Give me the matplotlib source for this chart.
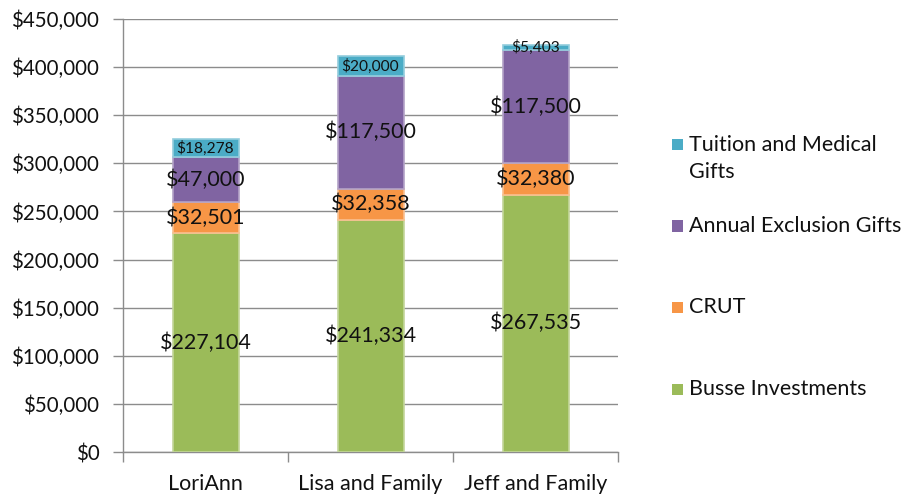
import matplotlib
matplotlib.use("Agg")
import matplotlib.pyplot as plt
from matplotlib.patches import Rectangle
from matplotlib.ticker import FuncFormatter, MultipleLocator
import numpy as np

plt.rcParams['font.family'] = ['Lato', 'DejaVu Sans']

categories = ["LoriAnn", "Lisa and Family", "Jeff and Family"]
series_names = ["Busse Investments", "CRUT", "Annual Exclusion Gifts", "Tuition and Medical Gifts"]
busse = [227104, 241334, 267535]
crut = [32501, 32358, 32380]
annual = [47000, 117500, 117500]
tuition = [18278, 20000, 5403]

colors = ["#9BBB59", "#F79646", "#8064A2", "#4BACC6"]
edges = ["#C3D69B", "#FAC090", "#B3A2C7", "#93CDDD"]
txt = '#111111'

fig = plt.figure(figsize=(9.06, 4.98), dpi=100)
ax = fig.add_axes([123/906, 1-452/498, (618-123)/906, (452-19)/498])

x = np.arange(len(categories))
bottoms = np.zeros(len(categories))
all_series = [busse, crut, annual, tuition]
label_sizes = [15.5, 15.5, 15.5, 11.2]
for vals, col, ed, fs in zip(all_series, colors, edges, label_sizes):
    vals = np.array(vals, dtype=float)
    ax.bar(x, vals, width=0.4, bottom=bottoms, color=col, edgecolor=ed,
           linewidth=1.2, zorder=3)
    for xi, b, v in zip(x, bottoms, vals):
        ax.text(xi, b + v/2, "${:,.0f}".format(v), ha='center', va='center',
                fontsize=fs, color=txt, zorder=5)
    bottoms += vals

ax.set_xlim(-0.5, 2.5)
ax.set_ylim(0, 450000)
ax.yaxis.set_major_locator(MultipleLocator(50000))
ax.yaxis.set_major_formatter(FuncFormatter(lambda v, p: "${:,.0f}".format(v)))
ax.grid(axis='y', color='#8c8c8c', linewidth=1, zorder=0)
ax.set_axisbelow(True)

ax.set_xticks([-0.5, 0.5, 1.5, 2.5], minor=False)
ax.set_xticklabels([])
ax.set_xticks(x, minor=True)
ax.set_xticklabels(categories, minor=True)
ax.tick_params(axis='x', which='minor', length=0, pad=16, labelsize=15.5, labelcolor=txt)
ax.tick_params(axis='x', which='major', length=7, width=1, color='#8c8c8c', direction='out')
ax.tick_params(axis='y', length=7, width=1, color='#8c8c8c', direction='out', pad=10,
               labelsize=14.8, labelcolor=txt)

for s in ['top', 'right']:
    ax.spines[s].set_visible(False)
for s in ['left', 'bottom']:
    ax.spines[s].set_color('#8c8c8c')
    ax.spines[s].set_linewidth(1)

# Legend (manual, Excel-style spacing)
legend_items = [(["Tuition and Medical", "Gifts"], colors[3], 145),
                (["Annual Exclusion Gifts"], colors[2], 226),
                (["CRUT"], colors[1], 307),
                (["Busse Investments"], colors[0], 389)]
for lines, col, ypx in legend_items:
    sq = 11
    fig.patches.append(Rectangle((672/906, 1-(ypx+sq/2)/498), sq/906, sq/498,
                                 transform=fig.transFigure, facecolor=col,
                                 edgecolor='none'))
    for i, line in enumerate(lines):
        fig.text(689/906, 1-(ypx+27*i)/498, line, ha='left', va='center',
                 fontsize=15.5, color=txt, transform=fig.transFigure)

fig.savefig("out.png", dpi=100)
